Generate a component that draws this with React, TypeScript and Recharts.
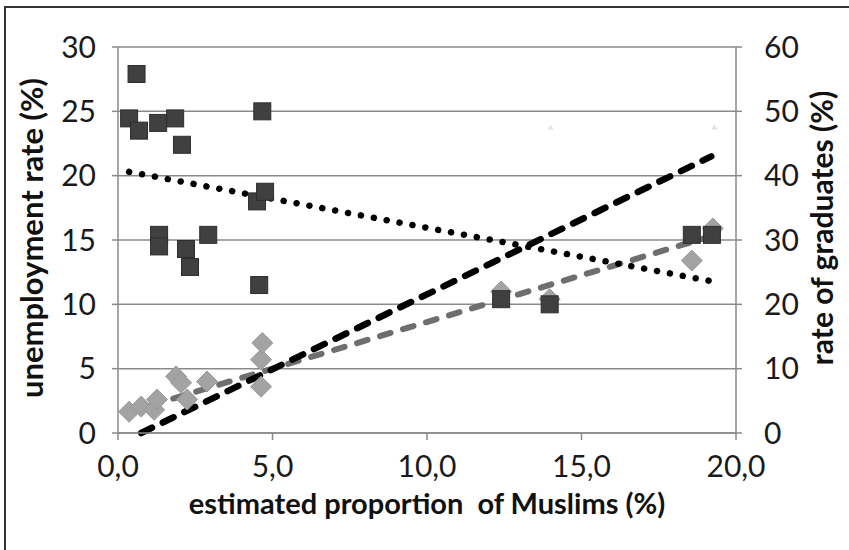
import React from 'react';
import { ComposedChart, Scatter, XAxis, YAxis, CartesianGrid, ReferenceLine } from 'recharts';

// squares: unemployment rate (left axis)
const unempShare = [0.36, 0.6, 0.68, 1.3, 1.33, 1.33, 1.85, 2.07, 2.2, 2.33, 2.92, 4.5, 4.57, 4.67, 4.76, 12.4, 13.97, 18.57, 19.22];
const unempRate = [24.45, 27.9, 23.5, 24.1, 15.4, 14.5, 24.45, 22.4, 14.3, 12.9, 15.4, 18.0, 11.5, 25.0, 18.75, 10.4, 10.0, 15.4, 15.4];

// diamonds: rate of graduates (right axis)
const gradShare = [0.36, 0.75, 1.17, 1.26, 1.88, 2.04, 2.24, 2.88, 4.63, 4.63, 4.67, 12.4, 13.97, 18.57, 19.25];
const gradRate = [3.3, 4.1, 3.6, 5.2, 8.8, 7.8, 5.2, 8.0, 7.2, 11.4, 14.0, 22.0, 20.8, 26.8, 31.8];

// barely visible points
const faintShare = [14.0, 19.3];
const faintRate = [47.5, 47.5];

// trend lines (two end points each)
const unempTrendX = [0.36, 19.2];
const unempTrendY = [20.3, 11.8];
const gradTrendX = [0.3, 19.2];
const gradTrendY = [3.2, 30.6];
const blackTrendX = [0.75, 19.2];
const blackTrendY = [0, 43];

const xTicks = [0, 5, 10, 15, 20];
const leftTicks = [0, 5, 10, 15, 20, 25, 30];
const rightTicks = [0, 10, 20, 30, 40, 50, 60];

const zip = (xs: number[], ys: number[]) => xs.map((x, i) => ({ x, y: ys[i] }));

const unempData = zip(unempShare, unempRate);
const gradData = zip(gradShare, gradRate);
const faintData = zip(faintShare, faintRate);

const font = 'Lato, "Open Sans", sans-serif';
const tickStyle = { fill: '#1a1a1a', fontSize: 30, fontFamily: font };
const axisStroke = { stroke: '#8a8a8a', strokeWidth: 1.5 };

const Square = (props: any) => {
  const { cx, cy } = props;
  return <rect x={cx - 8.5} y={cy - 8.5} width={17} height={17} fill="#404040" stroke="#2e2e2e" strokeWidth={1} />;
};

const Diamond = (props: any) => {
  const { cx, cy } = props;
  const r = 10.5;
  return (
    <polygon
      points={`${cx},${cy - r} ${cx + r},${cy} ${cx},${cy + r} ${cx - r},${cy}`}
      fill="#a3a3a3"
      stroke="#999"
      strokeWidth={1}
    />
  );
};

const Faint = (props: any) => {
  const { cx, cy } = props;
  return <polygon points={`${cx},${cy - 3} ${cx + 3},${cy + 2} ${cx - 3},${cy + 2}`} fill="#e2e2e2" />;
};

const titleStyle: React.CSSProperties = {
  position: 'absolute',
  whiteSpace: 'pre',
  fontFamily: font,
  fontWeight: 700,
  color: '#111',
};

export default function App() {
  return (
    <div style={{ position: 'relative', width: 849, height: 550, background: '#fff', overflow: 'hidden' }}>
      <style>{`body{margin:0}`}</style>
      <div
        style={{
          position: 'absolute',
          left: 4,
          top: 6,
          width: 860,
          height: 560,
          borderTop: '2px solid #333',
          borderLeft: '2px solid #333',
        }}
      />
      <ComposedChart width={849} height={550} margin={{ top: 47, right: 0, bottom: 0, left: 0 }}>
        <CartesianGrid yAxisId="left" vertical={false} stroke="#8a8a8a" strokeWidth={1.5} />
        <XAxis
          type="number"
          dataKey="x"
          domain={[0, 20]}
          ticks={xTicks}
          height={117}
          tickFormatter={(v: number) => v.toFixed(1).replace('.', ',')}
          tick={tickStyle}
          axisLine={axisStroke}
          tickLine={axisStroke}
          tickSize={7}
          tickMargin={16}
        />
        <YAxis
          yAxisId="left"
          type="number"
          dataKey="y"
          domain={[0, 30]}
          ticks={leftTicks}
          width={118}
          tick={tickStyle}
          axisLine={axisStroke}
          tickLine={axisStroke}
          tickSize={6}
          tickMargin={16}
        />
        <YAxis
          yAxisId="right"
          orientation="right"
          type="number"
          dataKey="y"
          domain={[0, 60]}
          ticks={rightTicks}
          width={113}
          tick={{ ...tickStyle, textAnchor: 'start' }}
          axisLine={axisStroke}
          tickLine={axisStroke}
          tickSize={6}
          tickMargin={22}
        />
        <Scatter yAxisId="right" data={faintData} shape={Faint} isAnimationActive={false} />
        <Scatter yAxisId="right" data={gradData} shape={Diamond} isAnimationActive={false} />
        <Scatter yAxisId="left" data={unempData} shape={Square} isAnimationActive={false} />
        <ReferenceLine
          yAxisId="right"
          segment={zip(gradTrendX, gradTrendY)}
          stroke="#6e6e6e"
          strokeWidth={6}
          strokeDasharray="11 13"
          strokeLinecap="round"
        />
        <ReferenceLine
          yAxisId="right"
          segment={zip(blackTrendX, blackTrendY)}
          stroke="#000"
          strokeWidth={6.5}
          strokeDasharray="12 12"
          strokeLinecap="round"
        />
        <ReferenceLine
          yAxisId="left"
          segment={zip(unempTrendX, unempTrendY)}
          stroke="#000"
          strokeWidth={6.5}
          strokeDasharray="0.1 13"
          strokeLinecap="round"
        />
      </ComposedChart>
      <div style={{ ...titleStyle, left: 31, top: 238, fontSize: 31, transform: 'translate(-50%, -50%) rotate(-90deg)' }}>
        unemployment rate (%)
      </div>
      <div style={{ ...titleStyle, left: 821, top: 228, fontSize: 30, transform: 'translate(-50%, -50%) rotate(-90deg)' }}>
        rate of graduates (%)
      </div>
      <div style={{ ...titleStyle, left: 427, top: 502, fontSize: 29, transform: 'translate(-50%, -50%)' }}>
        {'estimated proportion  of Muslims (%)'}
      </div>
    </div>
  );
}
